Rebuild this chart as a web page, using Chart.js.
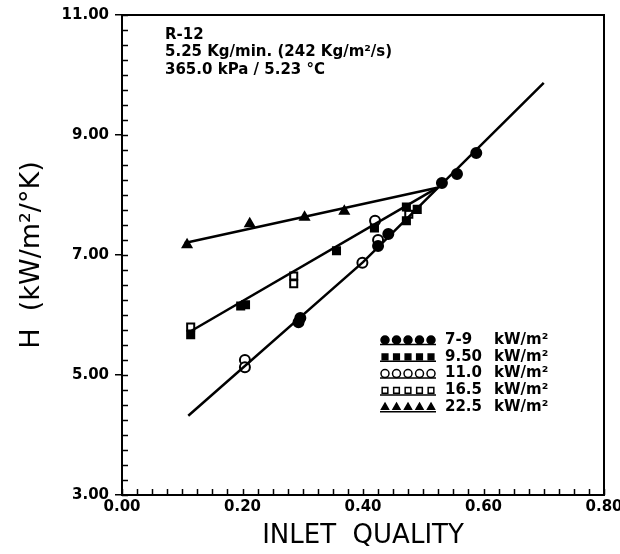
<!DOCTYPE html>
<html lang="en">
<head>
  <meta charset="UTF-8">
  <title>H vs inlet quality - R-12</title>
  <script src="https://cdn.jsdelivr.net/npm/chart.js"></script>
  <style>
    body {
      margin: 0;
      background: #fff;
    }
    #wrap {
      width: 620px;
      height: 554px;
    }
  </style>
</head>
<body>
  <div id="wrap"><canvas id="grafico" width="620" height="554"></canvas></div>

  <script>
    // data
    const xTicks = [0.0, 0.2, 0.4, 0.6, 0.8];
    const yTicks = [3, 5, 7, 9, 11];

    const seriesNames = ['7-9', '9.50', '11.0', '16.5', '22.5'];

    const q79 = [0.293, 0.296, 0.425, 0.442, 0.531, 0.556, 0.588];
    const h79 = [5.88, 5.95, 7.15, 7.35, 8.20, 8.35, 8.70];

    const q950 = [0.114, 0.197, 0.205, 0.356, 0.419, 0.472, 0.490, 0.472];
    const h950 = [5.67, 6.15, 6.17, 7.07, 7.45, 7.80, 7.76, 7.57];

    const q110 = [0.204, 0.204, 0.399, 0.425, 0.420];
    const h110 = [5.25, 5.13, 6.87, 7.25, 7.57];

    const q165 = [0.114, 0.285, 0.285, 0.476];
    const h165 = [5.80, 6.65, 6.52, 7.68];

    const q225 = [0.108, 0.212, 0.303, 0.369];
    const h225 = [7.17, 7.52, 7.63, 7.73];

    // fitted lines
    const fitTopQ = [0.104, 0.523];
    const fitTopH = [7.20, 8.12];
    const fitMidQ = [0.109, 0.523];
    const fitMidH = [5.70, 8.12];
    const fitLowQ = [0.110, 0.400, 0.700];
    const fitLowH = [4.32, 6.88, 9.87];

    const notas = ['R-12', '5.25 Kg/min. (242 Kg/m²/s)', '365.0 kPa / 5.23 °C'];

    function pares(xs, ys) {
      return xs.map((x, i) => ({ x: x, y: ys[i] }));
    }

    const estilos = [
      { pointStyle: 'circle', backgroundColor: '#000', borderColor: '#000' },
      { pointStyle: 'rect', backgroundColor: '#000', borderColor: '#000' },
      { pointStyle: 'circle', backgroundColor: '#fff', borderColor: '#000' },
      { pointStyle: 'rect', backgroundColor: '#fff', borderColor: '#000' },
      { pointStyle: 'triangle', backgroundColor: '#000', borderColor: '#000' }
    ];
    const pontos = [[q79, h79], [q950, h950], [q110, h110], [q165, h165], [q225, h225]];

    const datasets = [];
    [[fitTopQ, fitTopH], [fitMidQ, fitMidH], [fitLowQ, fitLowH]].forEach(f => {
      datasets.push({
        type: 'line',
        data: pares(f[0], f[1]),
        borderColor: '#000',
        borderWidth: 2.5,
        pointRadius: 0,
        showLine: true,
        fill: false,
        tension: 0
      });
    });
    pontos.forEach((p, i) => {
      datasets.push({
        label: seriesNames[i] + ' kW/m²',
        data: pares(p[0], p[1]),
        pointStyle: estilos[i].pointStyle,
        backgroundColor: estilos[i].backgroundColor,
        borderColor: estilos[i].borderColor,
        borderWidth: 2,
        pointRadius: 5,
        showLine: false
      });
    });

    const fonteTicks = { family: 'DejaVu Sans', size: 15, weight: 'bold' };

    // frame, minor ticks, text notes and legend
    const extras = {
      id: 'extras',
      afterDraw(chart) {
        const ctx = chart.ctx;
        const a = chart.chartArea;
        const xs = chart.scales.x, ys = chart.scales.y;
        ctx.save();
        ctx.strokeStyle = '#000';
        ctx.lineWidth = 2;
        ctx.strokeRect(a.left, a.top, a.right - a.left, a.bottom - a.top);

        ctx.lineWidth = 1.5;
        ctx.beginPath();
        for (let v = 3; v <= 11.001; v += 0.25) {
          const py = Math.round(ys.getPixelForValue(v)) + 0.5;
          ctx.moveTo(a.left, py);
          ctx.lineTo(a.left + 6, py);
        }
        for (let v = 0; v <= 0.8001; v += 0.025) {
          const px = Math.round(xs.getPixelForValue(v)) + 0.5;
          ctx.moveTo(px, a.bottom);
          ctx.lineTo(px, a.bottom - 6);
        }
        ctx.stroke();

        ctx.fillStyle = '#000';
        ctx.font = 'bold 15px "DejaVu Sans"';
        ctx.textBaseline = 'middle';
        ctx.textAlign = 'left';
        notas.forEach((t, i) => ctx.fillText(t, 165, 35 + i * 17.5));

        // legend
        seriesNames.forEach((nome, i) => {
          const y = 340 + i * 16.8;
          ctx.strokeStyle = '#000';
          ctx.lineWidth = 1.5;
          ctx.beginPath();
          ctx.moveTo(380, y + 4.5);
          ctx.lineTo(436, y + 4.5);
          ctx.stroke();
          for (let k = 0; k < 5; k++) {
            ctx.fillStyle = estilos[i].backgroundColor;
            ctx.strokeStyle = '#000';
            Chart.helpers.drawPoint(ctx, {
              pointStyle: estilos[i].pointStyle,
              radius: 4,
              borderWidth: 1.5,
              rotation: 0
            }, 385 + k * 11.5, y);
          }
          ctx.fillStyle = '#000';
          ctx.font = 'bold 15px "DejaVu Sans"';
          ctx.fillText(nome, 445, y);
          ctx.fillText('kW/m²', 494, y);
        });
        ctx.restore();
      }
    };

    Chart.register(extras);

    const ctx = document.getElementById('grafico').getContext('2d');
    const chart = new Chart(ctx, {
      type: 'scatter',
      data: { datasets: datasets },
      options: {
        responsive: false,
        animation: false,
        layout: { padding: { left: 0, top: 15, right: 16, bottom: 0 } },
        plugins: {
          legend: { display: false },
          tooltip: { enabled: false }
        },
        scales: {
          x: {
            type: 'linear',
            min: 0,
            max: 0.8,
            afterFit: s => { s.height = 59; s.paddingLeft = 0; s.paddingRight = 0; },
            afterBuildTicks: s => { s.ticks = xTicks.map(v => ({ value: v })); },
            ticks: {
              color: '#000',
              font: fonteTicks,
              padding: 3,
              maxRotation: 0,
              callback: v => Number(v).toFixed(2)
            },
            grid: { drawOnChartArea: false, drawTicks: false },
            border: { color: '#000', width: 2 },
            title: {
              display: true,
              text: 'INLET  QUALITY',
              color: '#000',
              font: { family: 'DejaVu Sans', size: 26, weight: 'normal' },
              padding: { top: 0, bottom: 2 }
            }
          },
          y: {
            type: 'linear',
            min: 3,
            max: 11,
            afterFit: s => { s.width = 122; s.paddingTop = 0; s.paddingBottom = 0; },
            afterBuildTicks: s => { s.ticks = yTicks.map(v => ({ value: v })); },
            ticks: {
              color: '#000',
              font: fonteTicks,
              padding: 6,
              callback: v => Number(v).toFixed(2)
            },
            grid: { drawOnChartArea: false, drawTicks: true, tickLength: 7, color: '#000', lineWidth: 1.5 },
            border: { color: '#000', width: 2 },
            title: {
              display: true,
              text: 'H  (kW/m²/°K)',
              color: '#000',
              font: { family: 'DejaVu Sans', size: 27, weight: 'normal' },
              padding: { top: 16, bottom: 0 }
            }
          }
        }
      }
    });
  </script>
</body>
</html>
